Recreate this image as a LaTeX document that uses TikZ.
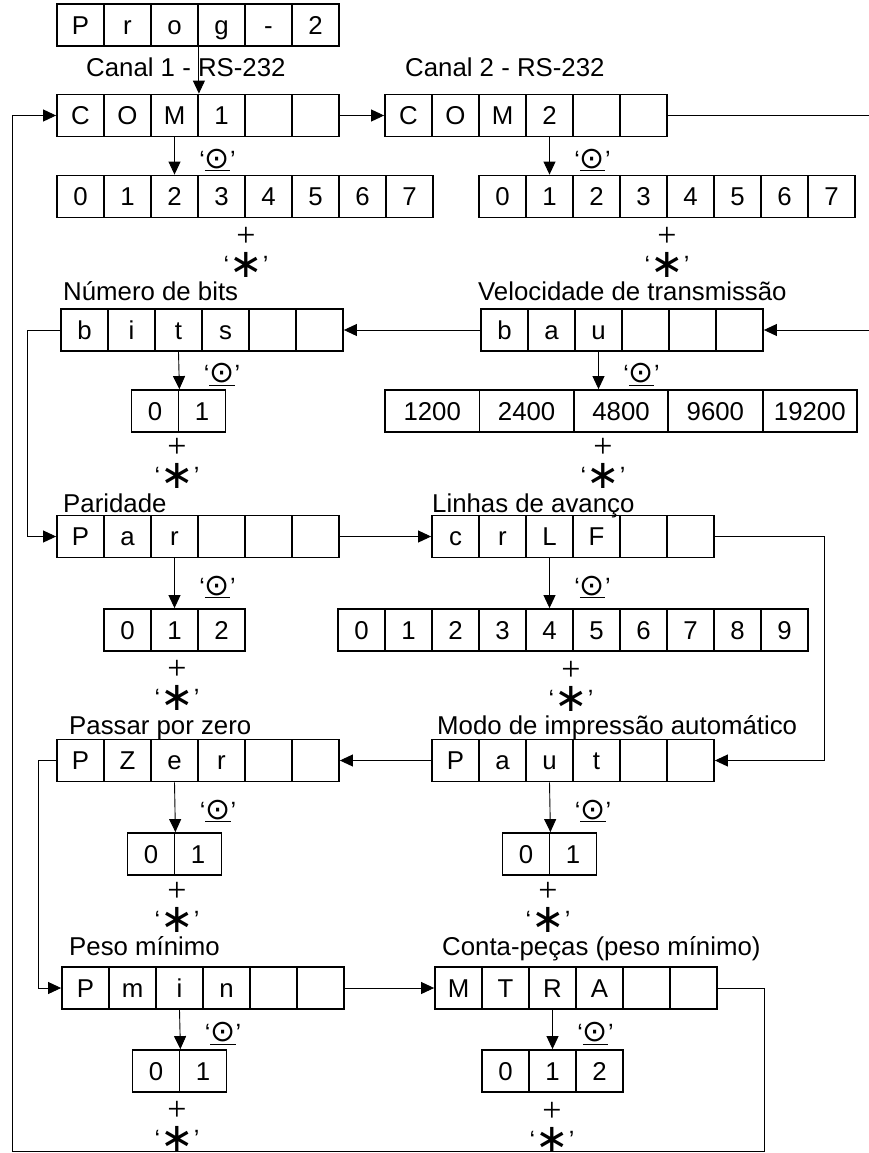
\documentclass[tikz,border=0pt]{standalone}
\usepackage{fontspec}
\setmainfont{Liberation Sans}
\newfontfamily\symfont{DejaVu Sans}
\newfontfamily\plusfont{Liberation Serif}
\usetikzlibrary{arrows.meta}

% a register of cells: name, left x, centre y, cell width, contents
\newcommand{\register}[5]{%
  \foreach \lab [count=\i] in {#5}
    \node[cell, minimum width=#4] (#1-\i) at ({#2+(\i-0.5)*#4},#3) {\lab};
}
\newcommand{\okkey}{‘\underline{\fontsize{30}{30}\selectfont\symfont ⊙}’}
\newcommand{\astkey}{‘\raisebox{-4pt}{\fontsize{40}{40}\selectfont\symfont ∗}’}

\begin{document}
\begin{tikzpicture}[x=1pt, y=-1pt,
  cell/.style={draw, line width=1.8pt, minimum height=42pt, inner sep=0pt,
    text height=18.5pt, text depth=0pt, font=\fontsize{25.8}{30}\selectfont},
  link/.style={line width=0.9pt},
  arr/.style={link, -{Triangle[length=13pt,width=12pt]}},
  title/.style={anchor=base west, inner sep=0pt, font=\fontsize{25.8}{30}\selectfont},
  okkey/.style={font=\fontsize{25}{30}\selectfont, inner sep=0pt, xshift=43pt, yshift=-4pt},
  plussign/.style={font=\plusfont\fontsize{34}{34}\selectfont, inner sep=0pt,
    text height=16pt, text depth=0pt},
  starsign/.style={font=\fontsize{25}{25}\selectfont, inner sep=0pt,
    text height=18pt, text depth=1pt}]
\useasboundingbox (0,0) rectangle (869,1153);

% registers
\register{prog}{57}{25}{47}{P,r,o,g,-,2}
\register{com1}{57}{115.5}{47}{C,O,M,1,{},{}}
\register{com2}{385}{115.5}{47}{C,O,M,2,{},{}}
\register{ch1}{57}{196.5}{47}{0,1,2,3,4,5,6,7}
\register{ch2}{479}{196.5}{47}{0,1,2,3,4,5,6,7}
\register{bits}{61}{330}{47}{b,i,t,s,{},{}}
\register{bau}{481}{330}{47}{b,a,u,{},{},{}}
\register{nbits}{131.5}{411}{47}{0,1}
\register{baud}{385}{411}{94.4}{1200,2400,4800,9600,19200}
\register{par}{57}{536.5}{47}{P,a,r,{},{},{}}
\register{crlf}{432}{536.5}{47}{c,r,L,F,{},{}}
\register{npar}{104}{630}{47}{0,1,2}
\register{ncrlf}{338}{630}{47}{0,1,2,3,4,5,6,7,8,9}
\register{pzer}{57}{760.5}{47}{P,Z,e,r,{},{}}
\register{paut}{432}{760.5}{47}{P,a,u,t,{},{}}
\register{npzer}{127.5}{854}{47}{0,1}
\register{npaut}{502.5}{854}{47}{0,1}
\register{pmin}{62}{988}{47}{P,m,i,n,{},{}}
\register{mtra}{435}{988}{47}{M,T,R,A,{},{}}
\register{npmin}{132.5}{1071}{47}{0,1}
\register{nmtra}{482}{1071}{47}{0,1,2}

% titles
\node[title] (t-com1) at (86,77) {Canal 1 - RS-232};
\node[title] (t-com2) at (405,77) {Canal 2 - RS-232};
\node[title] (t-bits) at (63,300) {Número de bits};
\node[title] (t-bau) at (478,300) {Velocidade de transmissão};
\node[title] (t-par) at (63,512) {Paridade};
\node[title] (t-crlf) at (432,512) {Linhas de avanço};
\node[title] (t-pzer) at (69,734) {Passar por zero};
\node[title] (t-paut) at (437,734) {Modo de impressão automático};
\node[title] (t-pmin) at (69,955) {Peso mínimo};
\node[title] (t-mtra) at (442,955) {Conta-peças (peso mínimo)};

% + and '*' under each choice
\foreach \px/\py [count=\k] in {246/238, 667/238, 177/449, 603/449, 177/671,
    571/672, 177/893, 548/893, 177/1112, 552/1113}{
  \node[plussign] (plus\k) at (\px,\py) {+};
  \node[starsign] (star\k) at (\px,\py+27) {\astkey};
}

% menu chain
\coordinate (east1) at (869,115.5);
\coordinate (east2) at (869,330);
\coordinate (loopcorner) at (12,1151);
\draw[arr] (prog-3.south east) -- (com1-3.north east);
\draw[arr] (com1-6.east) -- (com2-1.west);
\draw[link] (com2-6.east) -- (east1);
\draw[arr] (east2) -- (bau-6.east);
\draw[arr] (bau-1.west) -- (bits-6.east);
\draw[arr] (bits-1.west) -- ++(-33,0) |- (par-1.west);
\draw[arr] (par-6.east) -- (crlf-1.west);
\draw[arr] (crlf-6.east) -- ++(110,0) |- (paut-6.east);
\draw[arr] (paut-1.west) -- (pzer-6.east);
\draw[arr] (pzer-1.west) -- ++(-18,0) |- (pmin-1.west);
\draw[arr] (pmin-6.east) -- (mtra-1.west);
\draw[arr] (mtra-6.east) -- ++(47,0) |- (loopcorner) |- (com1-1.west);

% entering the values
\draw[arr] (com1-3.south) -- node[okkey]{\okkey} (ch1-3.north);
\draw[arr] (com2-4.south) -- node[okkey]{\okkey} (ch2-2.north);
\draw[arr] (bits-3.south) -- node[okkey]{\okkey} (nbits-1.north east);
\draw[arr] (bau-3.south) -- node[okkey]{\okkey} (bau-3.south |- baud-3.north);
\draw[arr] (par-3.south) -- node[okkey]{\okkey} (npar-2.north);
\draw[arr] (crlf-3.south) -- node[okkey]{\okkey} (ncrlf-5.north);
\draw[arr] (pzer-3.south) -- node[okkey]{\okkey} (npzer-1.north east);
\draw[arr] (paut-3.south) -- node[okkey]{\okkey} (npaut-1.north east);
\draw[arr] (pmin-3.south) -- node[okkey]{\okkey} (npmin-1.north east);
\draw[arr] (mtra-3.south) -- node[okkey]{\okkey} (nmtra-2.north);

\end{tikzpicture}
\end{document}
